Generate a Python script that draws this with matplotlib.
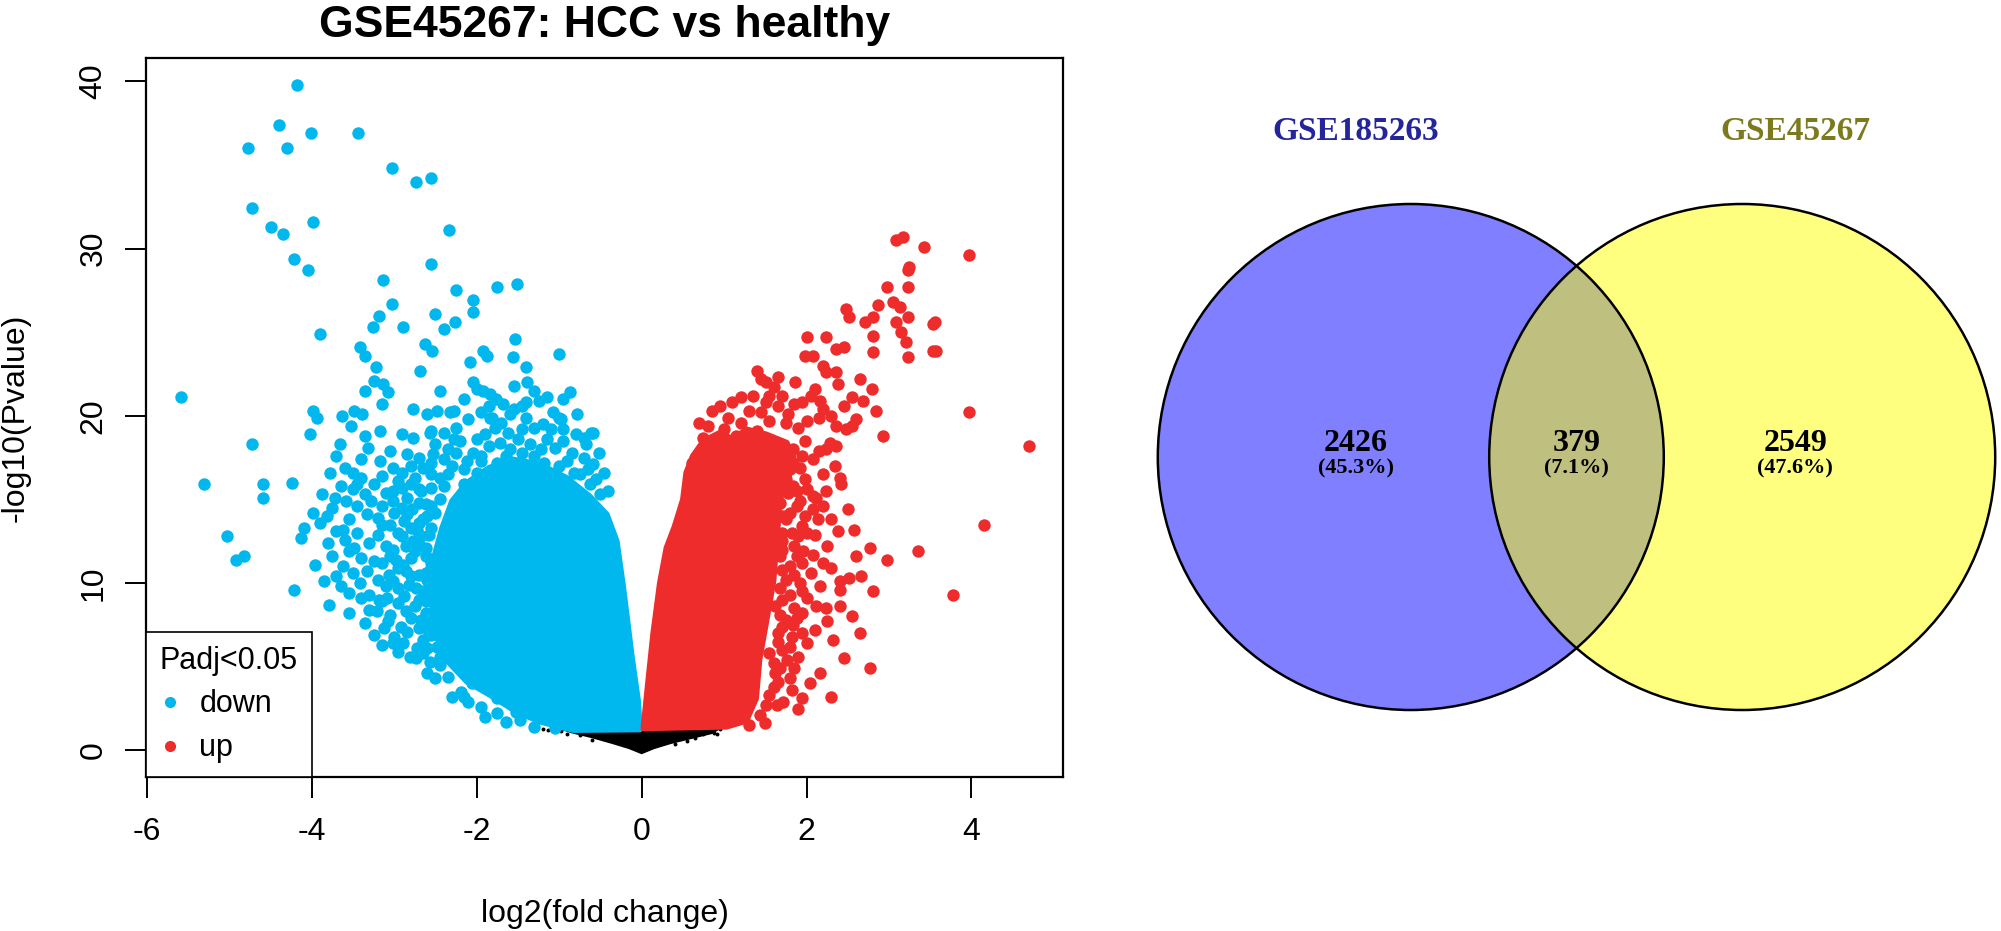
# volcano (GSE45267 HCC vs healthy) + DEG overlap venn
import numpy as np
import matplotlib
matplotlib.use('Agg')
import matplotlib.pyplot as plt
from matplotlib.patches import Circle
from matplotlib.lines import Line2D

plt.rcParams['font.family'] = ['Liberation Sans', 'DejaVu Sans']
plt.rcParams['axes.unicode_minus'] = False

# %% data ---------------------------------------------------------------------
# scattered "down" genes (log2FC, -log10 p)
down_pts = [
    (-4.18, 39.8), (-4.40, 37.4), (-4.01, 36.9), (-3.44, 36.9), (-4.77, 36.0), (-4.30, 36.0),
    (-3.03, 34.8), (-2.74, 34.0), (-2.55, 34.2), (-4.72, 32.4), (-4.50, 31.3), (-4.35, 30.9),
    (-3.99, 31.6), (-2.34, 31.1), (-4.21, 29.4), (-4.05, 28.7), (-2.55, 29.1), (-3.13, 28.1),
    (-2.25, 27.5), (-1.75, 27.7), (-1.51, 27.9), (-3.03, 26.7), (-2.04, 26.9), (-2.04, 26.2),
    (-3.19, 26.0), (-2.51, 26.1), (-3.26, 25.3), (-2.89, 25.3), (-2.40, 25.2), (-2.26, 25.6),
    (-3.90, 24.9), (-1.53, 24.6), (-3.41, 24.1), (-3.35, 23.6), (-2.63, 24.3), (-2.54, 23.9),
    (-1.92, 23.9), (-1.88, 23.6), (-1.00, 23.7), (-3.22, 22.9), (-2.08, 23.2), (-1.56, 23.5),
    (-1.40, 22.9), (-2.69, 22.7), (-3.25, 22.1), (-3.13, 21.9), (-3.35, 21.5), (-3.07, 21.4),
    (-2.45, 21.5), (-2.04, 22.0), (-1.39, 22.0), (-1.55, 21.8), (-1.92, 21.5), (-1.84, 21.3),
    (-1.76, 21.0), (-1.68, 20.7), (-0.87, 21.4), (-0.95, 21.0), (-5.58, 21.1), (-3.15, 20.7),
    (-1.40, 20.8), (-3.98, 20.3), (-3.94, 19.9), (-3.63, 20.0), (-3.49, 20.3), (-3.39, 20.1),
    (-2.77, 20.4), (-2.60, 20.1), (-2.48, 20.3), (-2.32, 20.2), (-1.07, 20.2), (-0.98, 19.8),
    (-3.53, 19.4), (-4.02, 18.9), (-3.35, 18.8), (-3.17, 19.1), (-2.91, 18.9), (-2.77, 18.7),
    (-2.55, 19.1), (-1.82, 19.9), (-0.59, 19.0), (-4.72, 18.3), (-3.66, 18.3), (-3.32, 18.1),
    (-0.67, 18.3), (-5.31, 15.9), (-4.59, 15.9), (-4.59, 15.1), (-4.24, 16.0), (-5.03, 12.8),
    (-4.92, 11.4), (-4.82, 11.6), (-4.13, 12.7), (-4.21, 9.6), (-3.96, 11.1), (-3.79, 8.7),
    (-3.76, 11.6), (-3.98, 14.2), (-3.88, 15.3), (-3.78, 16.6), (-3.70, 13.1), (-3.59, 14.9),
    (-3.49, 12.1), (-3.41, 10.0), (-3.33, 10.7), (-3.21, 8.3), (-3.07, 7.7), (-2.89, 6.4),
    (-2.81, 5.6), (-2.74, 5.5), (-2.57, 5.3), (-2.19, 3.5), (-2.06, 4.0), (-1.48, 1.8),
    (-3.09, 9.1), (-3.01, 10.1), (-3.25, 11.3), (-3.45, 13.0), (-3.33, 14.1), (-3.25, 15.9),
    (-3.17, 17.3), (-2.57, 19.0), (-2.53, 17.7), (-2.85, 17.7), (-3.01, 16.9), (-3.01, 14.9),
    (-2.85, 14.1), (-2.77, 12.5), (-2.89, 11.1), (-2.73, 9.7), (-2.61, 8.9), (-2.53, 8.1),
    (-2.67, 15.5), (-2.45, 16.3), (-2.28, 20.3), (-1.84, 19.9), (-1.00, 19.9), (-0.61, 19.0),
    (-0.59, 17.1), (-0.41, 15.5), (-2.32, 6.9), (-2.48, 6.2), (-2.44, 5.1), (-1.75, 3.1),
    (-1.52, 2.3), (-2.20, 18.5), (-2.05, 17.8), (-1.90, 18.9), (-1.75, 17.2), (-1.60, 18.0),
    (-1.45, 19.2), (-1.30, 17.6), (-1.15, 18.6), (-1.00, 17.0), (-0.85, 17.8), (-0.75, 16.5),
    (-2.30, 17.0), (-2.00, 16.6), (-1.70, 19.6), (-1.55, 20.4), (-1.25, 20.9), (-1.35, 16.9),
    (-1.10, 16.4), (-0.95, 19.2), (-0.80, 18.9), (-0.70, 17.5), (-0.55, 16.2), (-2.15, 15.9),
    (-1.95, 20.2), (-1.20, 19.5), (-0.50, 15.3), (-0.52, 17.8), (-0.46, 16.6), (-3.60, 16.9),
    (-3.50, 15.6), (-3.40, 16.3), (-3.15, 13.5), (-3.10, 12.2), (-2.95, 13.0), (-2.90, 15.7),
    (-2.70, 13.6), (-2.62, 11.6), (-2.95, 8.8), (-2.80, 10.4), (-2.70, 7.3), (-3.55, 9.4),
    (-3.70, 10.4), (-3.35, 7.6), (-2.65, 6.6), (-2.58, 12.9), (-3.80, 12.4), (-3.90, 13.6),
    (-3.62, 11.0), (-3.00, 6.8), (-2.55, 14.6), (-2.60, 4.6), (-2.35, 4.4), (-2.30, 3.2),
    (-1.95, 2.6), (-1.75, 2.2), (-2.10, 2.9),
    # denser band left of the core
    (-2.95, 5.9), (-2.65, 5.8), (-3.15, 6.3), (-3.25, 6.9), (-2.85, 7.1), (-2.55, 6.9),
    (-2.80, 7.9), (-2.60, 7.6), (-3.30, 8.4), (-3.55, 8.2), (-3.15, 8.9), (-2.75, 8.6),
    (-2.50, 8.8), (-3.65, 9.8), (-3.30, 9.3), (-2.95, 9.7), (-2.65, 9.5), (-3.50, 10.6),
    (-3.20, 10.2), (-2.95, 10.9), (-2.62, 10.6), (-3.40, 11.5), (-3.05, 11.6), (-2.75, 11.9),
    (-2.55, 11.2), (-3.60, 12.6), (-3.30, 12.4), (-2.68, 12.8), (-3.55, 13.8), (-3.20, 13.9),
    (-2.80, 13.3), (-2.60, 14.0), (-3.75, 14.5), (-3.45, 14.6), (-3.15, 14.6), (-2.90, 14.5),
    (-2.70, 14.8), (-3.65, 15.8), (-3.35, 15.3), (-3.10, 15.4), (-2.80, 15.9), (-2.55, 15.7),
    (-3.50, 16.6), (-3.15, 16.4), (-2.90, 16.6), (-2.65, 16.9), (-2.40, 17.4), (-3.70, 17.6),
    (-3.40, 17.4), (-3.05, 17.9), (-2.70, 17.5), (-2.50, 18.3), (-3.72, 15.1), (-3.82, 14.0),
    (-4.10, 13.3), (-3.85, 10.1),
    (-3.02, 6.4), (-2.72, 6.1), (-2.58, 7.0), (-3.12, 7.3), (-2.92, 7.4), (-2.68, 7.8),
    (-2.52, 7.5), (-3.05, 8.1), (-2.86, 8.3), (-2.62, 8.2), (-3.18, 9.0), (-2.88, 9.2),
    (-2.70, 9.0), (-2.55, 9.6), (-3.10, 9.8), (-2.82, 9.9), (-2.60, 10.2), (-3.06, 10.5),
    (-2.86, 10.7), (-2.70, 10.5), (-2.55, 10.9), (-3.15, 11.2), (-2.98, 11.4), (-2.80, 11.5),
    (-2.62, 12.1), (-3.02, 12.0), (-2.86, 12.2), (-2.70, 12.3), (-3.20, 12.9), (-2.90, 12.8),
    (-2.72, 13.2), (-2.55, 13.3), (-3.05, 13.5), (-2.88, 13.7), (-2.65, 13.8), (-2.50, 14.2),
    (-3.00, 14.2), (-2.78, 14.4), (-2.62, 14.7), (-2.45, 15.0), (-3.02, 15.5), (-2.85, 15.1),
    (-2.70, 15.6), (-2.40, 15.8), (-2.95, 16.1), (-2.75, 16.3), (-2.55, 16.5), (-2.35, 16.5),
    (-2.80, 17.0), (-2.55, 17.2), (-2.25, 17.8), (-2.15, 16.8), (-1.95, 17.3), (-3.40, 9.1),
    (-3.55, 11.9), (-3.28, 14.9), (-3.45, 15.9), (-3.62, 13.2),
    # above the core
    (-2.35, 18.0), (-2.25, 19.3), (-2.12, 17.3), (-2.10, 19.8), (-2.00, 18.6), (-1.95, 17.6),
    (-1.85, 18.2), (-1.78, 19.3), (-1.72, 18.4), (-1.65, 17.6), (-1.62, 19.0), (-1.50, 18.6),
    (-1.45, 17.8), (-1.40, 19.9), (-1.35, 18.3), (-1.30, 19.3), (-1.22, 18.0), (-1.18, 17.2),
    (-1.10, 19.2), (-1.05, 18.1), (-0.95, 18.5), (-0.90, 17.3), (-0.82, 16.6), (-0.78, 20.1),
    (-0.70, 18.7), (-0.65, 16.8), (-0.62, 15.9), (-1.60, 20.1), (-1.85, 20.6), (-2.15, 21.0),
    (-1.30, 21.5), (-1.15, 21.1), (-1.45, 20.6), (-2.00, 21.6), (-2.40, 19.0), (-2.28, 18.6),
    # lower rim
    (-2.50, 4.3), (-2.45, 5.6), (-2.60, 6.1), (-2.15, 3.2), (-1.90, 2.0), (-1.65, 1.7),
    (-1.30, 1.4), (-1.05, 1.35),
]
# saturated core of the "down" cloud (outline)
down_core_x = [-0.02, -0.83, -1.23, -1.52, -1.84, -2.12, -2.35, -2.50, -2.55, -2.52, -2.42, -2.30,
               -2.12, -1.85, -1.56, -1.23, -0.91, -0.63, -0.42, -0.30, -0.22, -0.12, -0.04]
down_core_y = [1.24, 1.20, 1.70, 2.30, 3.30, 4.10, 5.30, 6.90, 8.90, 11.5, 13.3, 14.9,
               16.0, 16.9, 17.4, 17.1, 16.3, 15.2, 14.1, 12.5, 9.7, 5.7, 2.9]

up_pts = [
    (3.09, 30.5), (3.17, 30.7), (3.43, 30.1), (3.23, 28.7), (3.23, 27.7), (2.97, 27.7),
    (3.05, 26.8), (2.87, 26.6), (3.13, 26.5), (2.48, 26.4), (2.52, 25.9), (2.81, 25.9),
    (2.71, 25.6), (3.23, 25.9), (3.09, 25.6), (3.15, 25.0), (3.56, 25.6), (2.81, 24.8),
    (3.21, 24.4), (3.23, 23.5), (2.81, 23.8), (3.53, 23.9), (2.00, 24.7), (2.24, 24.7),
    (2.36, 24.0), (2.46, 24.1), (1.98, 23.6), (2.08, 23.6), (1.45, 22.2), (1.51, 22.0),
    (1.86, 22.0), (1.21, 21.1), (0.95, 20.6), (1.70, 21.2), (1.78, 20.1), (2.00, 19.7),
    (1.51, 20.8), (2.24, 22.6), (2.36, 22.6), (2.38, 21.9), (2.16, 20.9), (2.20, 20.4),
    (2.65, 22.2), (2.79, 21.6), (2.69, 20.9), (2.84, 20.3), (2.55, 19.4), (2.60, 19.8),
    (2.93, 18.8), (2.36, 19.4), (2.48, 19.2), (2.28, 18.4), (2.36, 18.2), (0.75, 18.7),
    (0.61, 17.2), (0.65, 16.4), (2.42, 15.9), (2.24, 15.5), (2.12, 15.1), (2.08, 14.4),
    (2.14, 13.8), (2.57, 13.2), (2.38, 13.1), (2.77, 12.1), (2.97, 11.4), (3.35, 11.9),
    (3.78, 9.3), (2.40, 10.1), (2.52, 10.3), (2.66, 10.4), (2.40, 9.6), (2.12, 8.6),
    (2.24, 8.5), (2.40, 8.6), (2.32, 6.6), (1.80, 6.2), (1.76, 5.4), (1.68, 4.9),
    (2.77, 4.9), (2.16, 4.6), (2.04, 4.0), (1.80, 4.3), (1.51, 2.7), (1.64, 2.7),
    (1.90, 2.45), (1.43, 2.1), (1.72, 2.9), (2.00, 9.1), (2.16, 9.8), (1.84, 7.5),
    (1.92, 10.0), (1.96, 11.9), (2.08, 11.7), (2.00, 13.0), (1.92, 14.9), (2.20, 14.6),
    (1.84, 15.8), (2.08, 15.2), (1.84, 17.2), (2.08, 17.4), (1.60, 18.2), (1.84, 18.0),
    (2.24, 18.0), (3.97, 29.6), (3.97, 20.2), (4.15, 13.5), (4.70, 18.2), (3.53, 25.5),
    (3.57, 23.9), (3.24, 28.9), (0.80, 19.4), (0.90, 18.0), (1.05, 19.9), (1.15, 18.8),
    (1.30, 20.3), (1.40, 19.1), (1.55, 19.7), (1.65, 20.6), (1.35, 21.2), (1.90, 19.3),
    (1.95, 20.8), (2.10, 21.6), (1.60, 21.7), (1.70, 12.0), (1.75, 13.8), (1.80, 11.0),
    (1.70, 9.0), (1.65, 7.0), (1.60, 3.8), (1.55, 5.8), (1.85, 8.5), (1.75, 16.2),
    (1.90, 12.8), (2.25, 12.2), (2.30, 10.9), (1.50, 1.6), (1.30, 1.5),
    # right flank of the core
    (1.55, 3.3), (1.65, 4.1), (1.82, 3.6), (1.95, 3.1), (1.60, 5.2), (1.90, 5.6),
    (2.00, 6.4), (1.70, 6.0), (2.10, 7.2), (1.75, 7.8), (1.95, 8.2), (2.25, 7.7),
    (1.62, 8.6), (1.75, 10.2), (2.05, 10.6), (2.20, 11.2), (1.68, 11.6), (1.85, 12.2),
    (2.10, 12.9), (1.70, 13.0), (1.80, 14.2), (1.98, 14.0), (2.30, 13.8), (1.68, 14.8),
    (1.78, 15.4), (1.98, 16.2), (2.20, 16.5), (1.92, 16.9), (2.35, 17.0), (2.15, 17.9),
    (1.98, 18.5), (2.40, 16.3), (2.50, 14.4), (2.60, 11.6), (2.55, 8.0), (2.80, 9.5),
    (2.65, 7.0), (2.45, 5.5), (2.30, 3.2),
    (1.62, 4.6), (1.85, 4.9), (1.66, 6.5), (1.82, 6.8), (1.95, 7.0), (1.70, 7.4),
    (1.88, 7.9), (1.68, 8.1), (1.80, 9.3), (1.95, 9.5), (1.68, 9.7), (1.85, 10.5),
    (1.70, 10.8), (1.95, 11.2), (1.88, 11.6), (1.70, 12.5), (1.82, 13.0), (1.95, 13.4),
    (1.72, 14.0), (1.88, 14.6), (1.70, 15.6), (1.88, 15.5), (1.80, 16.8), (1.95, 17.6),
    (1.72, 17.5), (2.00, 15.6),
    # above the core
    (0.70, 19.6), (0.85, 20.3), (1.00, 19.2), (1.10, 20.8), (1.20, 19.6), (1.45, 20.2),
    (1.55, 21.2), (1.75, 19.6), (1.85, 20.7), (2.05, 21.2), (2.15, 19.9), (2.30, 20.0),
    (2.45, 20.6), (1.40, 22.7), (1.65, 22.3), (2.20, 23.0), (2.55, 21.1),
]
up_core_x = [0.02, 0.08, 0.14, 0.22, 0.30, 0.40, 0.50, 0.54, 0.62, 0.75, 0.95, 1.11, 1.27,
             1.51, 1.76, 1.84, 1.80, 1.68, 1.64, 1.60, 1.51, 1.43, 1.39, 1.27, 1.03]
up_core_y = [1.30, 4.2, 7.0, 10.0, 12.1, 13.4, 15.0, 16.6, 17.6, 18.5, 19.0, 18.6, 19.2,
             18.9, 18.4, 17.6, 16.6, 15.0, 12.6, 10.1, 7.6, 5.4, 3.1, 1.75, 1.4]

# non-significant genes: dense wedge + a few stragglers
ns_core_x = [-1.00, -0.85, -0.60, -0.35, -0.15, 0.00, 0.15, 0.35, 0.60, 0.85, 0.95]
ns_core_y = [1.35, 1.10, 0.80, 0.45, 0.15, -0.15, 0.15, 0.45, 0.75, 1.05, 1.35]
ns_pts = [(-1.13, 1.22), (-1.05, 1.28), (-0.98, 1.18), (-1.20, 1.25), (0.88, 1.05), (0.91, 0.96),
          (0.75, 0.95), (0.65, 0.75), (-0.90, 1.00), (-0.75, 0.90), (0.55, 0.55), (0.80, 1.20),
          (0.95, 1.25), (-0.60, 0.62), (0.40, 0.40)]

x_ticks = [-6, -4, -2, 0, 2, 4]
y_ticks = [0, 10, 20, 30, 40]

# venn
set_names = ['GSE185263', 'GSE45267']
venn_counts = [2426, 379, 2549]          # only A, A&B, only B
venn_pcts = ['(45.3%)', '(7.1%)', '(47.6%)']

# %% styling ------------------------------------------------------------------
C_DOWN, C_UP, C_NS = '#00B7EE', '#EE2C2C', 'black'
W, H = 2001, 931
PT = 80      # marker area

fig = plt.figure(figsize=(W / 100, H / 100), dpi=100)

# %% volcano --------------------------------------------------------------------
ax = fig.add_axes([146 / W, (H - 777) / H, (1063 - 146) / W, (777 - 58) / H])

ax.fill(ns_core_x, ns_core_y, color=C_NS, lw=2, zorder=1)
ax.scatter(*np.array(ns_pts).T, s=8, color=C_NS, lw=0, zorder=1)
ax.fill(down_core_x, down_core_y, color=C_DOWN, lw=4, joinstyle='round', zorder=2)
ax.fill(up_core_x, up_core_y, color=C_UP, lw=4, joinstyle='round', zorder=2)
ax.scatter(*np.array(down_pts).T, s=PT, color=C_DOWN, lw=0, zorder=3)
ax.scatter(*np.array(up_pts).T, s=PT, color=C_UP, lw=0, zorder=3)

ax.set_xlim(-6.01, 5.11)
ax.set_ylim(-1.6, 41.4)
ax.set_xticks(x_ticks)
ax.set_yticks(y_ticks)
ax.tick_params(length=15, width=1.4, labelsize=23, direction='out')
ax.tick_params(axis='x', pad=14)
ax.tick_params(axis='y', pad=12, labelrotation=90)
for lab in ax.get_yticklabels():
    lab.set_va('center')
for s in ax.spines.values():
    s.set_linewidth(1.6)

ax.set_xlabel('log2(fold change)', fontsize=23, va='center')
ax.xaxis.set_label_coords(0.5, -0.19)
ax.set_ylabel('-log10(Pvalue)', fontsize=23, va='center')
ax.yaxis.set_label_coords(-0.142, 0.5)
ax.text(0.5, 1.045, 'GSE45267: HCC vs healthy', transform=ax.transAxes,
        ha='center', va='center', fontsize=32, fontweight='bold')

handles = [Line2D([], [], ls='', marker='o', ms=7, color=C_DOWN, label='down'),
           Line2D([], [], ls='', marker='o', ms=7, color=C_UP, label='up')]
leg = ax.legend(handles=handles, title='Padj<0.05', loc='lower left', bbox_to_anchor=(0, 0),
                borderaxespad=0, fontsize=22, title_fontsize=22, alignment='left',
                fancybox=False, edgecolor='black', framealpha=1, handlelength=0.7,
                handletextpad=0.6, labelspacing=0.45, borderpad=0.45)
leg.get_frame().set_linewidth(1.2)

# %% venn -------------------------------------------------------------------------
# units = circle radius; equal circles, centres VENN_SEP radii apart
VENN_SEP = 1.31
PX = 253.0                      # px per radius
vax = fig.add_axes([1100 / W, 0, 901 / W, 1])
vax.set_xlim((1100 - 1576.5) / PX, (2001 - 1576.5) / PX)
vax.set_ylim((457 - 931) / PX, 457 / PX)
vax.axis('off')

centres = [(-VENN_SEP / 2, 0), (VENN_SEP / 2, 0)]
fills = [(0, 0, 1, 0.5), (1, 1, 0, 0.5)]
for c, fc in zip(centres, fills):
    vax.add_patch(Circle(c, 1, facecolor=fc, edgecolor='none'))
for c in centres:
    vax.add_patch(Circle(c, 1, fill=False, edgecolor='black', lw=1.8))

serif = ['Liberation Serif', 'DejaVu Serif']
label_x = [-0.872, 0.0, 0.864]
vax.text(label_x[0], 1.285, set_names[0], ha='center', va='center', fontsize=24,
         fontweight='bold', color='#24249C', family=serif)
vax.text(label_x[2], 1.285, set_names[1], ha='center', va='center', fontsize=24,
         fontweight='bold', color='#7B7B1E', family=serif)
for xx, n, p in zip(label_x, venn_counts, venn_pcts):
    vax.text(xx, 0.055, str(n), ha='center', va='center', fontsize=23,
             fontweight='bold', family=serif)
    vax.text(xx, -0.047, p, ha='center', va='center', fontsize=16,
             fontweight='bold', family=serif)

fig.savefig('out.png', dpi=100)
